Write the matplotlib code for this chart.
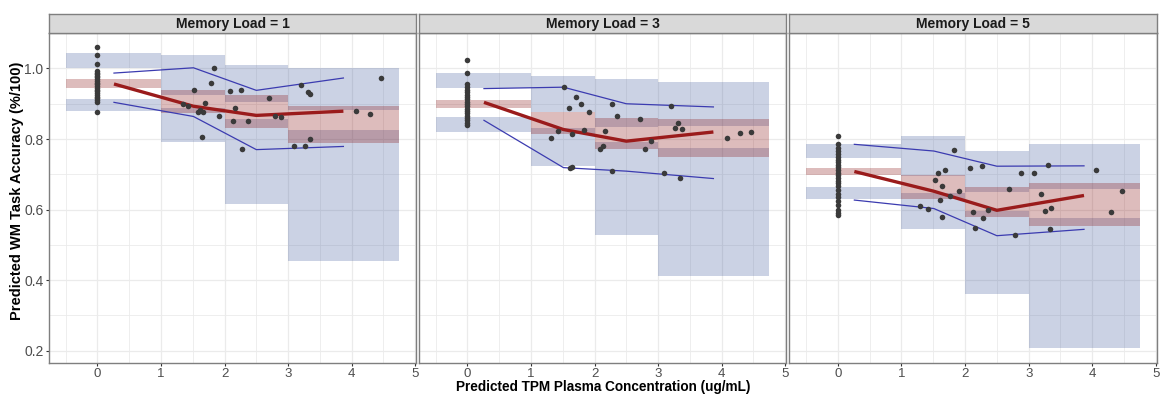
import matplotlib
matplotlib.use("Agg")
import matplotlib.pyplot as plt
from matplotlib.patches import Rectangle
import numpy as np

plt.rcParams['font.family'] = ['Liberation Sans', 'DejaVu Sans']

# ---------------- data ----------------
loads = [1, 3, 5]
panel_titles = ["Memory Load = 1", "Memory Load = 3", "Memory Load = 5"]

bin_lo = [-0.5, 1.0, 2.0, 3.0]
bin_hi = [1.0, 2.0, 3.0, 4.75]
line_x = [0.26, 1.51, 2.5, 3.87]

# Simulated percentile confidence intervals (per bin)
upper_top_1 = [1.043, 1.037, 1.011, 1.002]
upper_bot_1 = [1.002, 0.924, 0.905, 0.881]
median_top_1 = [0.971, 0.938, 0.926, 0.895]
median_bot_1 = [0.946, 0.875, 0.831, 0.790]
lower_top_1 = [0.914, 0.888, 0.856, 0.825]
lower_bot_1 = [0.879, 0.792, 0.617, 0.455]

upper_top_3 = [0.986, 0.978, 0.971, 0.963]
upper_bot_3 = [0.944, 0.876, 0.834, 0.836]
median_top_3 = [0.911, 0.878, 0.859, 0.858]
median_bot_3 = [0.888, 0.813, 0.771, 0.748]
lower_top_3 = [0.863, 0.831, 0.792, 0.774]
lower_bot_3 = [0.821, 0.724, 0.529, 0.412]

upper_top_5 = [0.787, 0.808, 0.767, 0.785]
upper_bot_5 = [0.747, 0.695, 0.650, 0.657]
median_top_5 = [0.719, 0.697, 0.663, 0.674]
median_bot_5 = [0.697, 0.629, 0.580, 0.554]
lower_top_5 = [0.663, 0.647, 0.595, 0.577]
lower_bot_5 = [0.629, 0.545, 0.361, 0.209]

# Observed percentile lines
obs_median_1 = [0.956, 0.893, 0.867, 0.879]
obs_upper_1 = [0.987, 1.002, 0.938, 0.973]
obs_lower_1 = [0.904, 0.864, 0.770, 0.779]

obs_median_3 = [0.904, 0.827, 0.794, 0.820]
obs_upper_3 = [0.943, 0.947, 0.900, 0.891]
obs_lower_3 = [0.853, 0.719, 0.709, 0.688]

obs_median_5 = [0.708, 0.652, 0.598, 0.640]
obs_upper_5 = [0.785, 0.766, 0.723, 0.724]
obs_lower_5 = [0.627, 0.603, 0.526, 0.544]

# Observed points
obs_x_1 = [0]*23 + [1.35, 1.43, 1.525, 1.58, 1.62, 1.66, 1.65, 1.70, 1.78, 1.83, 1.91,
                    2.09, 2.14, 2.17, 2.26, 2.28, 2.37, 2.70, 2.79, 2.89,
                    3.10, 3.20, 3.27, 3.31, 3.35, 3.35, 4.07, 4.29, 4.46]
obs_y_1 = [1.060, 1.037, 1.013, 0.992, 0.988, 0.984, 0.980, 0.975, 0.970, 0.965, 0.960,
           0.955, 0.950, 0.945, 0.940, 0.935, 0.930, 0.925, 0.920, 0.915, 0.910, 0.905, 0.876,
           0.900, 0.893, 0.938, 0.876, 0.882, 0.876, 0.806, 0.903, 0.960, 1.002, 0.864,
           0.935, 0.850, 0.888, 0.939, 0.772, 0.850, 0.915, 0.866, 0.863,
           0.780, 0.952, 0.780, 0.933, 0.928, 0.799, 0.880, 0.870, 0.973]

obs_x_3 = [0]*20 + [1.32, 1.42, 1.525, 1.59, 1.62, 1.65, 1.65, 1.71, 1.79, 1.83, 1.92,
                    2.09, 2.13, 2.17, 2.27, 2.28, 2.36, 2.71, 2.79, 2.89,
                    3.10, 3.20, 3.26, 3.32, 3.35, 3.37, 4.08, 4.29, 4.46]
obs_y_3 = [1.025, 0.988, 0.957, 0.947, 0.940, 0.933, 0.926, 0.920, 0.913, 0.906, 0.900,
           0.893, 0.886, 0.880, 0.873, 0.866, 0.860, 0.853, 0.846, 0.840,
           0.803, 0.823, 0.947, 0.889, 0.719, 0.721, 0.815, 0.919, 0.900, 0.825, 0.878,
           0.771, 0.779, 0.823, 0.900, 0.708, 0.864, 0.857, 0.773, 0.795,
           0.705, 0.893, 0.831, 0.846, 0.690, 0.829, 0.803, 0.817, 0.821]

obs_x_5 = [0]*25 + [1.29, 1.41, 1.52, 1.58, 1.61, 1.64, 1.64, 1.69, 1.77, 1.82, 1.90,
                    2.08, 2.13, 2.15, 2.26, 2.28, 2.36, 2.69, 2.78, 2.88,
                    3.09, 3.19, 3.25, 3.31, 3.34, 3.35, 4.06, 4.29, 4.46]
obs_y_5 = [0.810, 0.785, 0.775, 0.766, 0.758, 0.750, 0.742, 0.735, 0.727, 0.720, 0.712,
           0.705, 0.697, 0.690, 0.682, 0.675, 0.667, 0.655, 0.645, 0.635, 0.625, 0.612,
           0.600, 0.590, 0.584,
           0.611, 0.603, 0.683, 0.705, 0.627, 0.666, 0.579, 0.711, 0.639, 0.768, 0.654,
           0.719, 0.594, 0.547, 0.723, 0.575, 0.598, 0.659, 0.528, 0.703,
           0.705, 0.643, 0.595, 0.725, 0.545, 0.605, 0.713, 0.592, 0.652]

x_ticks = [0, 1, 2, 3, 4, 5]
y_ticks = [0.2, 0.4, 0.6, 0.8, 1.0]
y_tick_labels = ["0.2", "0.4", "0.6", "0.8", "1.0"]
x_label = "Predicted TPM Plasma Concentration (ug/mL)"
y_label = "Predicted WM Task Accuracy (%/100)"

panels = [
    (upper_top_1, upper_bot_1, median_top_1, median_bot_1, lower_top_1, lower_bot_1,
     obs_median_1, obs_upper_1, obs_lower_1, obs_x_1, obs_y_1),
    (upper_top_3, upper_bot_3, median_top_3, median_bot_3, lower_top_3, lower_bot_3,
     obs_median_3, obs_upper_3, obs_lower_3, obs_x_3, obs_y_3),
    (upper_top_5, upper_bot_5, median_top_5, median_bot_5, lower_top_5, lower_bot_5,
     obs_median_5, obs_upper_5, obs_lower_5, obs_x_5, obs_y_5),
]

# ---------------- layout ----------------
W, H = 1163, 395
fig = plt.figure(figsize=(W / 100, H / 100), dpi=100)
panel_px = [(49, 416), (419, 786), (789.3, 1156.7)]
top_px, bot_px = 32.5, 362.7
strip_top = 14

blue = (51/255, 79/255, 151/255)
red = (135/255, 15/255, 15/255)
grid_c = "#EBEBEB"
border_c = "#7F7F7F"

for i, (x0, x1) in enumerate(panel_px):
    (ut, ub, mt, mb, lt, lb, om, ou, ol, ox, oy) = panels[i]
    ax = fig.add_axes([x0 / W, (H - bot_px) / H, (x1 - x0) / W, (bot_px - top_px) / H])
    ax.set_xlim(-0.7625, 5.0125)
    ax.set_ylim(0.166, 1.102)
    # grid
    for gx in np.arange(-0.5, 5.01, 0.5):
        major = abs(gx - round(gx)) < 1e-6
        ax.axvline(gx, color=grid_c, lw=0.9 if major else 0.6, zorder=0)
    for gy in np.arange(0.2, 1.101, 0.1):
        major = int(round(gy * 10)) % 2 == 0
        ax.axhline(gy, color=grid_c, lw=0.9 if major else 0.6, zorder=0)
    # rectangles
    for b in range(4):
        w = bin_hi[b] - bin_lo[b]
        ax.add_patch(Rectangle((bin_lo[b], ub[b]), w, ut[b] - ub[b], facecolor=blue,
                               alpha=0.25, lw=0, zorder=1))
        ax.add_patch(Rectangle((bin_lo[b], lb[b]), w, lt[b] - lb[b], facecolor=blue,
                               alpha=0.25, lw=0, zorder=1))
        ax.add_patch(Rectangle((bin_lo[b], mb[b]), w, mt[b] - mb[b], facecolor=red,
                               alpha=0.28, lw=0, zorder=2))
    # lines
    ax.plot(line_x, ou, color="#3B3BB0", lw=0.9, zorder=3)
    ax.plot(line_x, ol, color="#3B3BB0", lw=0.9, zorder=3)
    ax.plot(line_x, om, color="#9A1B1B", lw=2.4, zorder=4, solid_capstyle='butt')
    # points
    ax.scatter(ox, oy, s=16, color="#3A3A3A", lw=0, zorder=5)

    for s in ax.spines.values():
        s.set_color(border_c)
        s.set_linewidth(1.0)
    ax.set_xticks(x_ticks)
    ax.set_xticklabels([str(t) for t in x_ticks])
    ax.tick_params(axis='x', length=2.5, color="#333333", labelsize=9.5, labelcolor="#4D4D4D", pad=1)
    if i == 0:
        ax.set_yticks(y_ticks)
        ax.set_yticklabels(y_tick_labels)
        ax.tick_params(axis='y', length=2.5, color="#333333", labelsize=10, labelcolor="#4D4D4D", pad=1.5)
    else:
        ax.set_yticks([])
    ax.grid(False)

    # strip
    sax = fig.add_axes([x0 / W, (H - top_px) / H, (x1 - x0) / W, (top_px - strip_top) / H])
    sax.set_facecolor("#D9D9D9")
    sax.set_xticks([]); sax.set_yticks([])
    for s in sax.spines.values():
        s.set_color(border_c)
        s.set_linewidth(1.0)
    sax.text(0.5, 0.47, panel_titles[i], ha='center', va='center', fontsize=10,
             fontweight='bold', color="#1A1A1A", transform=sax.transAxes)

fig.text((49 + 1156.7) / 2 / W, 1 - 387 / H, x_label, ha='center', va='center',
         fontsize=9.8, fontweight='bold', color='black')
fig.text(17.5 / W, 1 - 191 / H, y_label, ha='center', va='center', rotation=90,
         fontsize=10.5, fontweight='bold', color='black')

fig.savefig("out.png", dpi=100)
